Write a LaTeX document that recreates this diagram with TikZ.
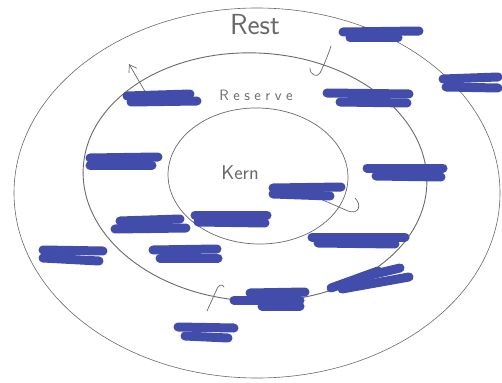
\documentclass[tikz,border=0pt]{standalone}
\usepackage{fontspec}
\usetikzlibrary{arrows.meta}
\definecolor{inkblue}{RGB}{66,76,170}
\definecolor{pencil}{RGB}{105,105,105}
\begin{document}
\begin{tikzpicture}[x=1pt,y=-1pt,
  ring/.style={draw=pencil,line width=0.7pt},
  bar/.style={draw=inkblue,line width=9pt,line cap=round},
  pen/.style={draw=pencil,line width=0.7pt,line cap=round},
  lbl/.style={text=pencil,inner sep=0pt}]
\useasboundingbox (0,0) rectangle (502,382);
% rings
\draw[ring,line width=0.6pt] (257,193) ellipse [x radius=243pt,y radius=185pt];
\draw[ring,line width=0.9pt,rotate around={-3:(255,177)}] (255,177) ellipse [x radius=172pt,y radius=124pt];
\draw[ring,rotate around={-2:(258,176)}] (258,176) ellipse [x radius=90pt,y radius=68pt];
% labels
\node[lbl,font=\sffamily\fontsize{29}{29}\selectfont] (rest) at (255,25) {Rest};
\node[lbl,font=\sffamily\fontsize{15}{15}\selectfont] (reserve) at (256,95) {R\hspace{4.5pt}e\hspace{4.5pt}s\hspace{4.5pt}e\hspace{4.5pt}r\hspace{4.5pt}v\hspace{4.5pt}e};
\node[lbl,font=\sffamily\fontsize{20}{20}\selectfont] (kern) at (240,173) {Kern};
% arrows
\coordinate (a1s) at (150,100); \coordinate (a1e) at (129,64);
\draw[pen,-{Straight Barb[length=7pt,width=9pt]}] (a1s) -- (a1e);
\coordinate (a2s) at (331,46); \coordinate (a2m) at (320,73); \coordinate (a2e) at (310,68);
\draw[pen] (a2s) .. controls (327,58) and (323,67) .. (a2m) .. controls (317,78) and (310,75) .. (a2e);
\coordinate (a3s) at (318,198); \coordinate (a3m) at (348,211); \coordinate (a3e) at (355,198);
\draw[pen] (a3s) -- (a3m) .. controls (359,215) and (362,205) .. (a3e);
\coordinate (a4s) at (207,311); \coordinate (a4m) at (216,291); \coordinate (a4e) at (224,287);
\draw[pen] (a4s) -- (a4m) .. controls (218,285) and (222,283) .. (a4e);
% redaction bars
\draw[bar] (343,32) -- (419,31); \draw[bar] (350,38) -- (398,38);
\draw[bar] (443,79) -- (498,77); \draw[bar] (446,87) -- (498,88);
\draw[bar] (127,96) -- (190,94); \draw[bar] (131,102) -- (197,101);
\draw[bar] (327,93) -- (409,94); \draw[bar] (340,102) -- (407,103);
\draw[bar] (90,158) -- (158,157); \draw[bar] (90,165) -- (152,165);
\draw[bar] (367,168) -- (443,168); \draw[bar] (376,176) -- (441,177);
\draw[bar] (273,188) -- (341,187); \draw[bar] (273,194) -- (330,196);
\draw[bar] (195,215) -- (267,215); \draw[bar] (198,222) -- (265,223);
\draw[bar] (120,221) -- (180,219); \draw[bar] (115,229) -- (186,228);
\draw[bar] (312,237) -- (405,237); \draw[bar] (318,243) -- (395,244);
\draw[bar] (153,250) -- (217,249); \draw[bar] (160,258) -- (218,258);
\draw[bar] (43,250) -- (103,251); \draw[bar] (43,258) -- (99,261);
\draw[bar] (331,288) -- (378,271); \draw[bar] (342,289) -- (409,277); \draw[bar] (362,277) -- (400,268);
\draw[bar] (250,293) -- (305,292); \draw[bar] (234,300) -- (300,300); \draw[bar] (262,306) -- (300,306);
\draw[bar] (178,327) -- (234,328); \draw[bar] (185,336) -- (228,338);
\end{tikzpicture}
\end{document}
